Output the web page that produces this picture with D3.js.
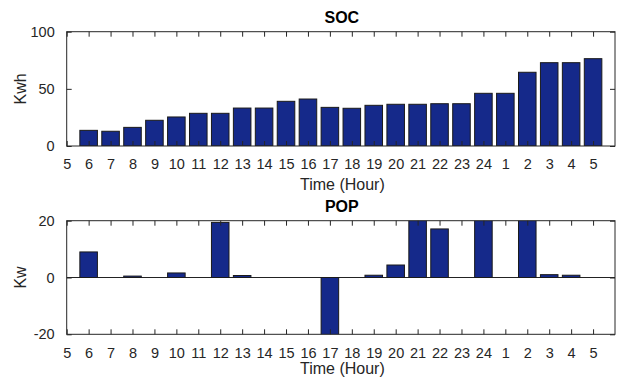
<!DOCTYPE html>
<html>
<head>
<meta charset="utf-8">
<script src="https://cdn.jsdelivr.net/npm/d3@7"></script>
<style>
  html, body { margin: 0; padding: 0; background: #fff; }
  svg { display: block; font-family: "Liberation Sans", Arial, sans-serif; }
</style>
</head>
<body>
<svg id="chart" width="619" height="379"></svg>
<script>
// Hour labels along the x axis (positions 0..24)
const hourLabels = ["5","6","7","8","9","10","11","12","13","14","15","16","17","18",
                    "19","20","21","22","23","24","1","2","3","4","5"];
// Bar hours (positions 1..24)
const barHours = ["6","7","8","9","10","11","12","13","14","15","16","17","18",
                  "19","20","21","22","23","24","1","2","3","4","5"];
// State of charge (Kwh)
const socValues = [13.7, 12.9, 16.3, 22.5, 25.4, 28.6, 28.6, 33.2, 33.2, 39.1, 41.1, 33.8,
                   33.0, 35.6, 36.5, 36.5, 37.0, 37.0, 46.1, 46.1, 64.5, 72.9, 72.9, 76.4];
// Power (Kw)
const popValues = [9.0, 0, 0.5, 0, 1.6, 0, 19.4, 0.7, 0, 0, 0, -21, 0, 0.8, 4.4, 21,
                   17.1, 0, 23, 0, 22, 1.0, 0.8, 0];

const socTicks = [0, 50, 100];
const popTicks = [-20, 0, 20];

const svg = d3.select("#chart");
const left = 66.7, right = 615;
const barColor = "#15298a";
const tickLen = 5;

const x = d3.scaleLinear().domain([0, 25]).range([left, right]);
const barW = (x(1) - x(0)) * 0.8;

function panel(opts) {
  const { top, bottom, domain, ticks, values, title, ylabel, id, baseline, xlabelOffset } = opts;
  const y = d3.scaleLinear().domain(domain).range([bottom, top]);
  const g = svg.append("g");

  g.append("clipPath").attr("id", id)
    .append("rect").attr("x", left).attr("y", top)
    .attr("width", right - left).attr("height", bottom - top);

  const bars = g.append("g").attr("clip-path", `url(#${id})`);
  if (baseline) {
    bars.append("line")
      .attr("x1", left).attr("x2", right)
      .attr("y1", y(0)).attr("y2", y(0))
      .attr("stroke", "#222").attr("stroke-width", 1);
  }
  bars.selectAll("rect.bar").data(values).enter().append("rect")
    .attr("class", "bar")
    .attr("x", (d, i) => x(i + 1) - barW / 2)
    .attr("width", barW)
    .attr("y", d => Math.min(y(d), y(0)))
    .attr("height", d => Math.abs(y(d) - y(0)))
    .attr("fill", barColor)
    .attr("stroke", "#1a1a1a")
    .attr("stroke-width", 1);

  // x axis (bottom) with inward ticks
  const xAxis = d3.axisBottom(x)
    .tickValues(d3.range(0, 25))
    .tickFormat(i => hourLabels[i])
    .tickSizeInner(-tickLen).tickSizeOuter(0).tickPadding(13);
  const gx = g.append("g").attr("transform", `translate(0,${bottom})`).call(xAxis);
  // x axis (top) ticks only
  const xTop = d3.axisTop(x).tickValues(d3.range(0, 25)).tickFormat("")
    .tickSizeInner(-tickLen).tickSizeOuter(0);
  const gxt = g.append("g").attr("transform", `translate(0,${top})`).call(xTop);

  const yAxis = d3.axisLeft(y).tickValues(ticks).tickFormat(d => String(d))
    .tickSizeInner(-tickLen).tickSizeOuter(0).tickPadding(12);
  const gy = g.append("g").attr("transform", `translate(${left},0)`).call(yAxis);
  const yRight = d3.axisRight(y).tickValues(ticks).tickFormat("")
    .tickSizeInner(-tickLen).tickSizeOuter(0);
  const gyr = g.append("g").attr("transform", `translate(${right},0)`).call(yRight);

  [gx, gxt, gy, gyr].forEach(a => {
    a.select(".domain").remove();
    a.selectAll("line").attr("stroke", "#262626");
    a.selectAll("text").attr("fill", "#262626").style("font-size", "14.5px")
      .style("font-family", "'Liberation Sans', Arial, sans-serif");
  });

  // axes box
  g.append("rect").attr("x", left).attr("y", top)
    .attr("width", right - left).attr("height", bottom - top)
    .attr("fill", "none").attr("stroke", "#262626").attr("stroke-width", 1);

  g.append("text").attr("x", (left + right) / 2 + 1).attr("y", top - 8.5)
    .attr("text-anchor", "middle").attr("font-weight", "bold")
    .attr("font-size", "16px").attr("fill", "#000").text(title);

  g.append("text").attr("x", (left + right) / 2 + 1.5).attr("y", bottom + xlabelOffset)
    .attr("text-anchor", "middle").attr("font-size", "16px")
    .attr("fill", "#262626").text("Time (Hour)");

  g.append("text")
    .attr("transform", `translate(26,${(top + bottom) / 2}) rotate(-90)`)
    .attr("text-anchor", "middle").attr("font-size", "16px")
    .attr("fill", "#262626").text(ylabel);
}

panel({ top: 31.7, bottom: 146, domain: [0, 100], ticks: socTicks, values: socValues,
        title: "SOC", ylabel: "Kwh", id: "clipSoc", baseline: false, xlabelOffset: 43.5 });
panel({ top: 220.7, bottom: 334.3, domain: [-20, 20], ticks: popTicks, values: popValues,
        title: "POP", ylabel: "Kw", id: "clipPop", baseline: true, xlabelOffset: 39.5 });
</script>
</body>
</html>
